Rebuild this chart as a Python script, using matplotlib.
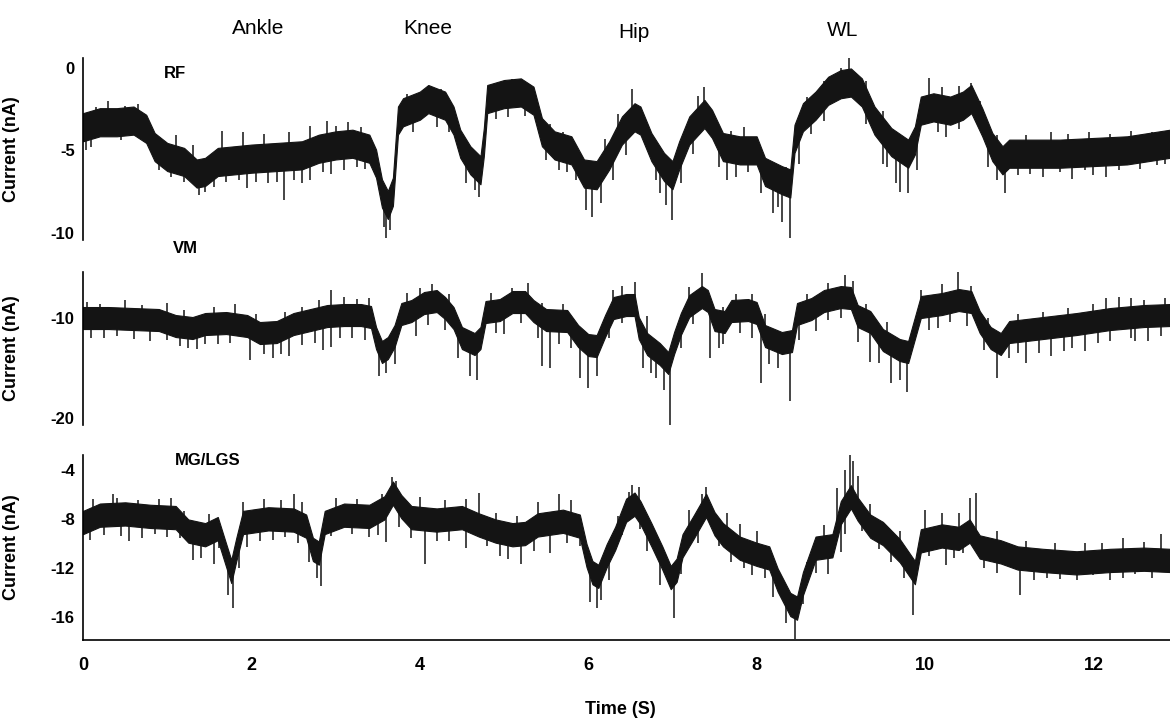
import numpy as np
import matplotlib
matplotlib.use('Agg')
import matplotlib.pyplot as plt

# --- datos (tiempo en s, corriente en nA) ---
# RF: linea media de la traza
rf_t = [0.0, 0.2, 0.4, 0.6, 0.75, 0.85, 1.0, 1.2, 1.35, 1.45, 1.6, 1.8, 2.0, 2.3, 2.6, 2.8,
        3.0, 3.2, 3.4, 3.48, 3.55, 3.62, 3.68, 3.74, 3.8, 4.0, 4.1, 4.3, 4.4, 4.48, 4.6, 4.72,
        4.76, 4.8, 5.0, 5.2, 5.35, 5.45, 5.6, 5.8, 5.95, 6.1, 6.25, 6.4, 6.55, 6.62, 6.75, 6.9,
        7.0, 7.08, 7.2, 7.38, 7.47, 7.6, 7.8, 8.0, 8.1, 8.3, 8.4, 8.45, 8.55, 8.7, 8.85, 9.0,
        9.12, 9.25, 9.4, 9.6, 9.8, 9.88, 9.95, 10.1, 10.3, 10.45, 10.55, 10.68, 10.8, 10.92,
        11.0, 11.3, 11.6, 12.0, 12.4, 12.91]
rf_mid = [-3.6, -3.3, -3.3, -3.2, -3.7, -4.8, -5.4, -5.7, -6.4, -6.3, -5.7, -5.6, -5.5, -5.4, -5.3, -4.9,
          -4.7, -4.6, -4.9, -5.8, -7.6, -8.3, -7.5, -3.2, -2.7, -2.3, -1.9, -2.3, -3.2, -4.6, -5.6, -6.2,
          -4.5, -1.9, -1.6, -1.5, -2.0, -3.9, -4.7, -5.0, -6.4, -6.5, -5.3, -3.8, -3.0, -3.2, -4.8, -6.0,
          -6.5, -5.3, -3.8, -2.8, -3.4, -4.8, -5.0, -5.0, -6.3, -6.8, -7.0, -4.3, -3.0, -2.3, -1.4, -1.0,
          -0.9, -1.5, -3.2, -4.5, -5.2, -4.4, -2.6, -2.4, -2.6, -2.3, -1.9, -3.3, -4.8, -5.6,
          -5.2, -5.2, -5.2, -5.1, -5.0, -4.6]
# RF: puntas de los picos (hacia abajo y hacia arriba)
rf_spk_t = [0.03, 0.1, 0.45, 0.9, 1.05, 1.2, 1.38, 1.45, 1.55, 1.7, 1.85, 1.95, 2.05, 2.2, 2.3,
            2.39, 2.5, 2.6, 2.7, 2.85, 2.95, 3.1, 3.25, 3.35, 3.57, 3.6, 3.65, 3.92, 4.2, 4.35,
            4.55, 4.65, 4.7, 4.9, 5.05, 5.25, 5.5, 5.65, 5.75, 5.85, 5.97, 6.05, 6.15, 6.3, 6.45,
            6.8, 6.85, 6.92, 7.0, 7.1, 7.25, 7.55, 7.65, 7.75, 7.9, 8.05, 8.2, 8.25, 8.3, 8.4,
            8.5, 8.65, 8.8, 9.3, 9.5, 9.55, 9.65, 9.7, 9.8, 9.9, 10.15, 10.25, 10.4, 10.75, 10.85,
            10.95, 11.1, 11.25, 11.4, 11.6, 11.75, 11.9, 12.0, 12.15, 12.3, 12.55, 12.75, 12.85]
rf_spk_v = [-5.0, -4.8, -4.4, -6.2, -6.6, -6.9, -7.7, -7.5, -7.2, -6.9, -6.8, -7.3, -6.9, -7.0, -6.9,
            -8.0, -6.8, -7.0, -6.8, -6.3, -6.4, -6.2, -6.0, -6.1, -9.6, -10.3, -9.8, -3.9, -3.6, -3.9,
            -7.0, -7.4, -7.8, -3.1, -3.0, -2.9, -5.6, -6.2, -6.3, -6.8, -8.6, -9.0, -8.2, -6.8, -5.3,
            -6.8, -7.6, -8.3, -9.2, -7.0, -5.2, -6.0, -6.8, -6.6, -6.3, -7.6, -8.8, -8.4, -9.3, -10.3,
            -5.8, -4.0, -3.2, -3.4, -5.8, -6.0, -7.0, -7.5, -7.6, -6.2, -3.9, -4.2, -3.7, -6.0, -6.8,
            -7.6, -6.5, -6.4, -6.6, -6.3, -6.7, -6.2, -6.5, -6.6, -6.2, -6.1, -5.9, -5.8]
rf_up_t = [0.15, 0.3, 0.5, 0.65, 1.1, 1.3, 1.65, 1.9, 2.15, 2.45, 2.7, 2.9, 3.0, 3.15, 3.3, 3.85,
           4.1, 4.25, 4.95, 5.1, 5.3, 5.55, 5.7, 6.2, 6.35, 6.52, 6.7, 7.3, 7.38, 7.7, 7.85, 8.35,
           8.6, 8.8, 9.0, 9.1, 9.3, 9.5, 9.7, 10.05, 10.2, 10.4, 10.55, 10.65, 10.85, 11.2, 11.5,
           11.7, 11.95, 12.2, 12.45, 12.7]
rf_up_v = [-2.4, -2.0, -2.3, -2.2, -4.1, -4.7, -3.8, -3.9, -4.0, -3.9, -3.5, -3.2, -3.5, -3.3, -3.6, -1.6,
           -1.1, -1.3, -0.9, -0.7, -1.0, -3.4, -3.9, -4.3, -2.8, -1.3, -3.5, -1.7, -1.2, -3.8, -3.6, -6.0,
           -1.8, -0.8, 0.0, 0.6, -0.8, -2.6, -4.2, -0.6, -1.2, -1.1, -0.9, -2.0, -4.1, -4.1, -3.9,
           -4.0, -3.9, -4.0, -3.8, -3.9]

# VM
vm_t = [0.0, 0.3, 0.6, 0.9, 1.1, 1.3, 1.45, 1.7, 1.95, 2.1, 2.3, 2.5, 2.7, 2.9, 3.1, 3.3, 3.42,
        3.48, 3.55, 3.62, 3.7, 3.78, 3.9, 4.05, 4.2, 4.3, 4.4, 4.5, 4.65, 4.72, 4.78, 4.95, 5.1,
        5.25, 5.35, 5.5, 5.75, 5.88, 6.0, 6.1, 6.2, 6.3, 6.45, 6.55, 6.6, 6.7, 6.85, 6.95, 7.02,
        7.1, 7.2, 7.35, 7.42, 7.5, 7.62, 7.7, 7.9, 8.0, 8.1, 8.3, 8.42, 8.48, 8.65, 8.8, 9.0,
        9.12, 9.2, 9.35, 9.5, 9.7, 9.8, 9.88, 9.95, 10.2, 10.4, 10.55, 10.65, 10.78, 10.9, 11.0,
        11.4, 11.8, 12.2, 12.6, 12.91]
vm_mid = [-10.0, -10.0, -10.1, -10.2, -10.8, -11.0, -10.6, -10.5, -10.8, -11.5, -11.4, -10.6, -10.2,
          -9.8, -9.7, -9.7, -9.9, -12.0, -13.4, -13.0, -11.8, -9.6, -9.3, -8.5, -8.3, -9.0, -10.0,
          -12.0, -12.6, -12.0, -9.4, -9.2, -8.4, -8.4, -9.3, -10.2, -10.3, -11.8, -12.7, -12.8, -10.8,
          -9.0, -8.7, -8.7, -11.0, -12.6, -13.6, -14.5, -12.5, -10.6, -8.8, -7.9, -8.3, -10.2, -10.4,
          -9.3, -9.2, -9.5, -11.8, -12.5, -12.3, -9.6, -9.1, -8.3, -7.9, -8.0, -9.8, -10.4, -12.2,
          -13.2, -13.4, -11.0, -8.9, -8.6, -8.2, -8.4, -10.4, -12.0, -12.6, -11.4, -11.0, -10.6,
          -10.1, -9.8, -9.7]
vm_spk_t = [0.1, 0.25, 0.4, 0.6, 0.8, 1.0, 1.15, 1.25, 1.35, 1.45, 1.6, 1.75, 1.98, 2.15, 2.25,
            2.35, 2.45, 2.6, 2.75, 2.85, 2.95, 3.05, 3.2, 3.35, 3.52, 3.6, 3.7, 3.95, 4.1, 4.3,
            4.45, 4.6, 4.68, 4.9, 5.0, 5.2, 5.4, 5.45, 5.55, 5.65, 5.8, 5.9, 6.0, 6.1, 6.25, 6.4,
            6.65, 6.75, 6.8, 6.9, 6.97, 7.1, 7.25, 7.45, 7.55, 7.6, 7.8, 7.95, 8.05, 8.15, 8.25,
            8.4, 8.5, 8.7, 8.85, 9.0, 9.2, 9.35, 9.45, 9.6, 9.7, 9.79, 10.05, 10.15, 10.3, 10.5,
            10.7, 10.85, 11.0, 11.1, 11.2, 11.35, 11.5, 11.65, 11.75, 11.9, 12.05, 12.2, 12.45,
            12.5, 12.65, 12.8]
vm_spk_v = [-12.0, -12.0, -11.8, -12.1, -12.3, -12.2, -12.8, -13.0, -13.1, -12.6, -12.6, -12.5, -14.2,
            -13.6, -14.0, -13.6, -13.8, -12.7, -12.5, -13.2, -12.9, -12.0, -12.0, -12.2, -15.8, -15.5,
            -14.6, -11.8, -10.7, -11.2, -14.0, -15.8, -16.2, -11.5, -11.6, -10.5, -12.0, -14.8, -15.0,
            -12.6, -13.0, -16.0, -17.0, -15.8, -12.0, -10.5, -15.0, -15.5, -16.0, -17.2, -20.7, -13.0,
            -10.6, -14.0, -13.0, -12.6, -11.5, -12.0, -16.5, -14.6, -15.0, -18.3, -12.2, -11.3, -10.2,
            -10.0, -12.4, -14.4, -14.5, -16.5, -16.2, -17.4, -11.2, -11.0, -10.4, -10.8, -13.2, -16.0,
            -14.0, -13.5, -14.5, -13.5, -13.8, -13.3, -13.0, -13.3, -12.5, -12.3, -12.0, -12.3, -12.3,
            -11.8]
vm_up_t = [0.05, 0.2, 0.5, 0.7, 1.0, 1.2, 1.55, 1.8, 2.05, 2.4, 2.6, 2.8, 2.95, 3.1, 3.25, 3.4,
           3.85, 4.0, 4.15, 4.35, 4.85, 5.1, 5.28, 5.45, 5.7, 6.3, 6.4, 6.55, 6.7, 7.2, 7.35, 7.6,
           7.75, 7.95, 8.1, 8.6, 8.85, 9.05, 9.15, 9.3, 9.55, 9.95, 10.2, 10.39, 10.55, 10.75,
           11.1, 11.4, 11.7, 12.0, 12.15, 12.3, 12.45, 12.6, 12.85]
vm_up_v = [-8.4, -8.6, -8.2, -8.7, -8.5, -9.2, -8.9, -8.6, -9.6, -9.4, -8.9, -8.2, -7.2, -7.9, -8.1, -8.0,
           -7.5, -7.0, -6.6, -7.6, -7.5, -7.0, -6.5, -8.5, -8.6, -7.2, -6.8, -6.4, -9.8, -6.9, -5.5, -8.9,
           -7.6, -7.6, -9.6, -7.6, -6.5, -5.7, -6.3, -8.6, -10.4, -7.2, -6.6, -5.3, -6.8, -10.0,
           -9.6, -9.4, -9.0, -8.6, -8.0, -7.9, -8.0, -8.2, -8.0]

# MG/LGS
mg_t = [0.0, 0.2, 0.5, 0.8, 1.1, 1.25, 1.45, 1.6, 1.7, 1.76, 1.82, 1.9, 2.2, 2.5, 2.65, 2.73, 2.8,
        2.87, 3.1, 3.4, 3.58, 3.68, 3.78, 3.9, 4.2, 4.5, 4.7, 4.9, 5.1, 5.25, 5.4, 5.7, 5.9, 5.98,
        6.05, 6.12, 6.22, 6.32, 6.45, 6.55, 6.62, 6.75, 6.88, 6.98, 7.05, 7.12, 7.25, 7.4, 7.5,
        7.6, 7.8, 8.0, 8.15, 8.25, 8.4, 8.48, 8.55, 8.7, 8.9, 9.0, 9.12, 9.2, 9.35, 9.5, 9.7,
        9.82, 9.88, 9.95, 10.2, 10.4, 10.53, 10.65, 10.9, 11.1, 11.4, 11.8, 12.2, 12.6, 12.91]
mg_mid = [-8.3, -7.7, -7.6, -7.8, -7.9, -9.0, -9.3, -8.8, -11.0, -12.3, -10.5, -8.3, -8.0, -8.1, -8.6,
          -10.5, -10.8, -8.3, -7.7, -7.8, -7.1, -5.9, -7.0, -7.9, -8.1, -7.9, -8.5, -9.0, -9.3, -9.2,
          -8.5, -8.2, -8.6, -11.0, -12.4, -12.7, -11.0, -9.6, -7.3, -6.8, -7.5, -9.3, -11.2, -12.8,
          -12.2, -10.2, -8.7, -6.9, -8.4, -9.3, -10.4, -10.9, -11.2, -13.0, -15.0, -15.3, -13.3,
          -10.4, -10.2, -7.5, -6.2, -7.2, -8.6, -9.2, -10.6, -11.8, -12.4, -9.8, -9.4, -9.6, -9.0,
          -10.3, -10.7, -11.2, -11.4, -11.6, -11.4, -11.3, -11.4]
mg_spk_t = [0.08, 0.25, 0.45, 0.55, 0.7, 0.85, 1.0, 1.15, 1.3, 1.4, 1.55, 1.62, 1.72, 1.78, 1.85,
            1.95, 2.1, 2.25, 2.4, 2.55, 2.68, 2.78, 2.83, 2.95, 3.2, 3.4, 3.5, 3.6, 3.75, 3.9, 4.06,
            4.2, 4.35, 4.55, 4.8, 4.95, 5.05, 5.2, 5.35, 5.55, 5.75, 5.9, 6.02, 6.1, 6.15, 6.25,
            6.4, 6.62, 6.7, 6.85, 7.02, 7.1, 7.3, 7.55, 7.7, 7.85, 7.95, 8.1, 8.2, 8.35, 8.46,
            8.55, 8.7, 8.85, 9.0, 9.05, 9.25, 9.45, 9.6, 9.75, 9.86, 10.05, 10.25, 10.35, 10.45,
            10.7, 10.85, 11.13, 11.3, 11.45, 11.6, 11.8, 12.0, 12.2, 12.35, 12.5, 12.7, 12.85]
mg_spk_v = [-9.7, -9.3, -9.4, -9.8, -9.6, -9.2, -9.5, -9.6, -11.4, -11.2, -11.7, -10.4, -14.2, -15.3,
            -12.0, -10.3, -9.8, -9.7, -9.5, -10.0, -11.5, -12.8, -13.5, -9.4, -9.2, -9.5, -9.3, -9.9,
            -8.7, -9.6, -11.7, -9.8, -9.8, -10.4, -10.2, -11.0, -11.3, -11.7, -10.6, -10.8, -10.0,
            -10.2, -14.8, -15.3, -14.6, -13.0, -9.3, -8.8, -10.6, -13.4, -16.1, -12.5, -10.0, -10.2,
            -11.5, -12.0, -12.6, -12.8, -14.4, -16.5, -17.8, -15.0, -12.4, -12.5, -10.7, -9.2, -9.0,
            -10.5, -11.5, -12.8, -15.9, -11.0, -11.8, -11.2, -10.8, -12.0, -12.4, -14.2, -13.0,
            -12.8, -12.9, -13.0, -12.6, -13.0, -12.8, -12.5, -12.8, -12.3]
mg_up_t = [0.12, 0.35, 0.4, 0.65, 0.9, 1.05, 1.2, 1.5, 1.9, 2.15, 2.35, 2.5, 2.6, 3.0, 3.25, 3.55,
           3.67, 3.72, 4.0, 4.3, 4.55, 4.7, 4.9, 5.15, 5.4, 5.65, 5.8, 6.35, 6.48, 6.52, 6.6, 7.2,
           7.35, 7.4, 7.65, 7.8, 8.0, 8.6, 8.8, 8.95, 9.05, 9.11, 9.15, 9.2, 9.35, 9.7, 10.0, 10.2,
           10.4, 10.53, 10.6, 10.85, 11.2, 11.55, 11.9, 12.1, 12.35, 12.6, 12.8]
mg_up_v = [-6.4, -6.0, -6.3, -6.5, -6.4, -6.3, -7.4, -7.6, -6.6, -6.4, -6.5, -6.0, -6.6, -6.3, -6.4, -6.0,
           -4.6, -4.9, -6.2, -6.5, -6.4, -5.9, -7.5, -7.8, -6.6, -6.0, -6.5, -7.8, -5.8, -5.2, -5.4, -7.3,
           -6.0, -5.4, -7.5, -8.4, -9.0, -11.5, -8.5, -5.5, -4.0, -2.5, -3.3, -4.5, -6.8, -9.0, -7.3, -7.5,
           -7.5, -6.3, -5.9, -9.0, -9.8, -10.0, -10.0, -10.0, -9.6, -9.9, -9.2]

paneles = [
    ('RF', rf_t, rf_mid, 0.85, rf_spk_t + rf_up_t, rf_spk_v + rf_up_v, (-10.42, 0.6), [0, -5, -10]),
    ('VM', vm_t, vm_mid, 1.1, vm_spk_t + vm_up_t, vm_spk_v + vm_up_v, (-20.7, -5.4), [-10, -20]),
    ('MG/LGS', mg_t, mg_mid, 0.95, mg_spk_t + mg_up_t, mg_spk_v + mg_up_v, (-17.9, -2.78),
     [-4, -8, -12, -16]),
]
# posiciones de los ejes (fraccion de figura)
cajas = [[0.071, 0.667, 0.929, 0.253],
         [0.071, 0.4105, 0.929, 0.2122],
         [0.071, 0.1124, 0.929, 0.2566]]
pos_nombre = [(175, 73), (185, 248), (208, 460)]
color_traza = '#141414'

fuente_num = ['Liberation Sans Narrow', 'Liberation Sans', 'DejaVu Sans']
fig = plt.figure(figsize=(11.70, 7.21), dpi=100)
W, H = 1170, 721

for i, (nombre, t, mid, ancho, st, sv, ylim, yt) in enumerate(paneles):
    ax = fig.add_axes(cajas[i])
    t = np.array(t); mid = np.array(mid)
    ax.fill_between(t, mid - ancho, mid + ancho, color=color_traza, lw=0.8, edgecolor=color_traza)
    base = np.interp(st, t, mid)
    ax.vlines(st, base, sv, color=color_traza, lw=1.1)
    ax.set_xlim(0, 12.91)
    ax.set_ylim(*ylim)
    ax.set_yticks(yt)
    ax.set_yticklabels([str(v) for v in yt], family=fuente_num, weight='bold', fontsize=12)
    ax.tick_params(length=0, pad=6)
    for s in ['top', 'right']:
        ax.spines[s].set_visible(False)
    ax.spines['left'].set_linewidth(1.2)
    ax.set_ylabel('Current (nA)', family=fuente_num, weight='bold', fontsize=13)
    ax.yaxis.set_label_coords(-0.058, 0.5)
    if i < 2:
        ax.spines['bottom'].set_visible(False)
        ax.set_xticks([])
    else:
        ax.spines['bottom'].set_linewidth(1.2)
        ax.set_xticks([0, 2, 4, 6, 8, 10, 12])
        ax.set_xticklabels(['0', '2', '4', '6', '8', '10', '12'], family=fuente_num,
                           weight='bold', fontsize=13)
        ax.tick_params(axis='x', pad=12)
    x, y = pos_nombre[i]
    fig.text(x / W, 1 - y / H, nombre, ha='center', va='center', weight='bold',
             family=['Liberation Sans', 'DejaVu Sans'], fontsize=12)

for txt, x, y in [('Ankle', 258, 28), ('Knee', 428, 28), ('Hip', 634, 33), ('WL', 843, 30)]:
    fig.text(x / W, 1 - y / H, txt, ha='center', va='center',
             family=['Liberation Sans', 'DejaVu Sans'], fontsize=15)

fig.text(620 / W, 1 - 710 / H, 'Time (S)', ha='center', va='center', weight='bold',
         family=fuente_num, fontsize=13)

fig.savefig('out.png', dpi=100)
